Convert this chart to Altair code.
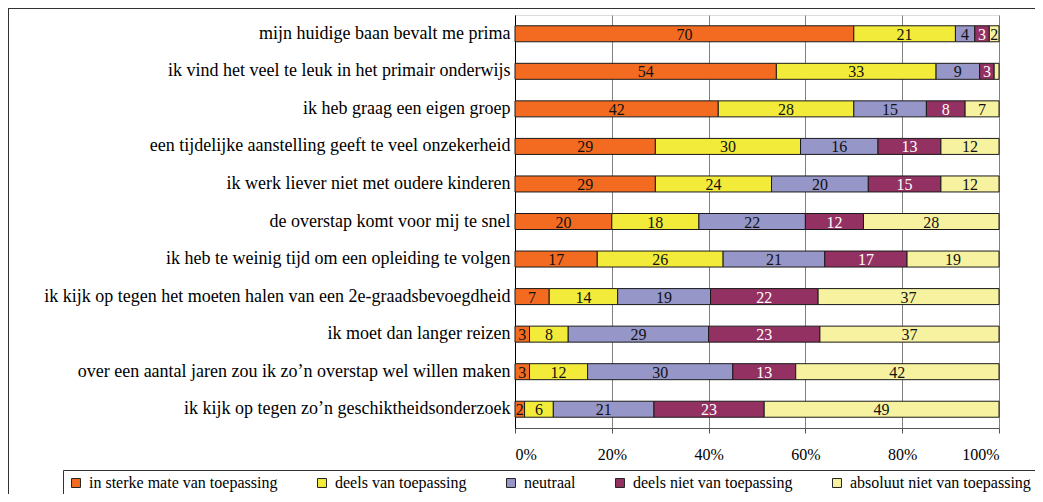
import altair as alt
import pandas as pd

NB = "\u00a0"
statements = [
    "mijn huidige baan bevalt me prima",
    "ik vind het veel te leuk in het primair onderwijs",
    "ik heb graag een eigen groep" + NB + NB,
    "een tijdelijke aanstelling geeft te veel onzekerheid",
    "ik werk liever niet met oudere kinderen" + NB + NB,
    "de overstap komt voor mij te snel" + NB + NB,
    "ik heb te weinig tijd om een opleiding te volgen",
    "ik kijk op tegen het moeten halen van een 2e-graadsbevoegdheid" + NB + NB,
    "ik moet dan langer reizen" + NB + NB,
    "over een aantal jaren zou ik zo\u2019n overstap wel willen maken",
    "ik kijk op tegen zo\u2019n geschiktheidsonderzoek",
]
categories = [
    "in sterke mate van toepassing",
    "deels van toepassing",
    "neutraal",
    "deels niet van toepassing",
    "absoluut niet van toepassing",
]
sterk = [70, 54, 42, 29, 29, 20, 17, 7, 3, 3, 2]
deels = [21, 33, 28, 30, 24, 18, 26, 14, 8, 12, 6]
neutraal = [4, 9, 15, 16, 20, 22, 21, 19, 29, 30, 21]
deels_niet = [3, 3, 8, 13, 15, 12, 17, 22, 23, 13, 23]
absoluut = [2, 1, 7, 12, 12, 28, 19, 37, 37, 42, 49]
colors = ["#F26B21", "#F2EB3A", "#9696C8", "#933262", "#F7F29F"]

series = [sterk, deels, neutraal, deels_niet, absoluut]
rows = []
for ci, (cat, vals) in enumerate(zip(categories, series)):
    for si, (st, v) in enumerate(zip(statements, vals)):
        rows.append({"stelling": st, "categorie": cat, "order": ci, "value": v})
df = pd.DataFrame(rows)

FONT = "Liberation Serif"

base = alt.Chart(df).transform_stack(
    stack="value",
    groupby=["stelling"],
    sort=[alt.SortField("order", order="ascending")],
    as_=["x0", "x1"],
    offset="normalize",
).transform_calculate(mid="(datum.x0 + datum.x1) / 2")

yenc = alt.Y(
    "stelling:N",
    sort=statements,
    title=None,
    scale=alt.Scale(paddingInner=0, paddingOuter=0),
    axis=alt.Axis(
        labelFontSize=18, labelColor="#000", labelLimit=600,
        ticks=False, domain=True, domainColor="#000", labelPadding=5, grid=False,
    ),
)

bars = base.mark_bar(size=16, stroke="#1a1a1a", strokeWidth=1).encode(
    x=alt.X(
        "x0:Q",
        title=None,
        scale=alt.Scale(domain=[0, 1], nice=False),
        axis=alt.Axis(
            format="%", values=[0, 0.2, 0.4, 0.6, 0.8, 1.0],
            labelFontSize=16, labelColor="#000",
            grid=True, gridColor="#808080", gridWidth=1,
            tickSize=5, tickColor="#555", domainColor="#555",
            labelPadding=13,
        ),
    ),
    x2="x1:Q",
    y=yenc,
    color=alt.Color(
        "categorie:N",
        sort=categories,
        scale=alt.Scale(domain=categories, range=colors),
        legend=alt.Legend(
            title=None, orient="none", direction="horizontal", columns=5,
            legendX=-452, legendY=455,
            symbolType="square", symbolSize=80, symbolStrokeColor="#222",
            symbolStrokeWidth=1, symbolOpacity=1,
            labelFontSize=16, labelColor="#000", labelLimit=400,
            columnPadding=36, padding=5, strokeColor="#333", fillColor="#fff",
            labelOffset=5,
        ),
    ),
    order=alt.Order("order:Q"),
)

labels = base.transform_filter("datum.value >= 2").mark_text(
    fontSize=16, baseline="middle", align="center", dy=1
).encode(
    x="mid:Q",
    y=alt.Y("stelling:N", sort=statements),
    text="value:Q",
    color=alt.condition(
        "datum.order == 3", alt.value("#ffffff"), alt.value("#111111")
    ),
)

frame_df = pd.DataFrame({"a": [0]})
frame_left = alt.Chart(frame_df).mark_rule(color="#333", strokeWidth=1, clip=False).encode(
    x=alt.value(-506.5), y=alt.value(-7), y2=alt.value(479)
)
frame_top = alt.Chart(frame_df).mark_rule(color="#333", strokeWidth=1, clip=False).encode(
    x=alt.value(-507), x2=alt.value(520), y=alt.value(-6.5)
)

chart = alt.layer(bars, labels, frame_left, frame_top).properties(
    width=484,
    height=413,
    autosize=alt.AutoSizeParams(type="none"),
    padding={"left": 507, "top": 7, "right": 36, "bottom": 66},
).resolve_scale(color="independent").configure_view(
    stroke="#555", strokeWidth=1
).configure(
    background="#ffffff", font=FONT
).configure_axis(
    labelFont=FONT
).configure_legend(
    labelFont=FONT
).configure_text(font=FONT)

chart.save("out.html", embed_options={"renderer": "svg", "actions": False})
